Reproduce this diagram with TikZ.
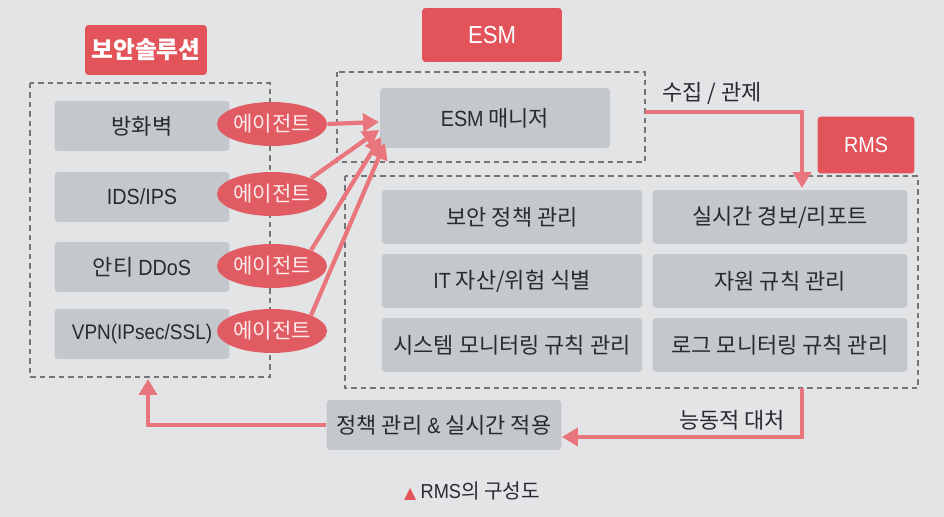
\documentclass[tikz,border=0pt]{standalone}
\usepackage{fontspec}
\setmainfont{Noto Sans CJK KR}
\newfontfamily\symfont{DejaVu Sans}
\newfontfamily\latinfont[FakeStretch=0.9]{Liberation Sans}
\usetikzlibrary{arrows.meta,shapes.geometric}
\definecolor{pagebg}{RGB}{227,228,230}
\definecolor{tagred}{RGB}{226,84,90}
\definecolor{agentred}{RGB}{224,92,98}
\definecolor{arrowred}{RGB}{232,118,124}
\definecolor{boxgray}{RGB}{196,199,204}
\definecolor{dashgray}{RGB}{115,117,121}
\definecolor{textdark}{RGB}{40,42,48}
\begin{document}
\begin{tikzpicture}[x=0.02cm,y=-0.02cm]
	\tikzstyle{tag}=[rectangle,rounded corners=2pt,fill=tagred,text=white,inner sep=0pt,font=\fontsize{13}{15}\selectfont]
	\tikzstyle{g-node}=[rectangle,rounded corners=2pt,fill=boxgray,text=textdark,inner sep=0pt,font=\fontsize{12.5}{15}\selectfont]
	\tikzstyle{a-node}=[ellipse,fill=agentred,text=white!92!red,inner sep=0pt,minimum width=2.2cm,minimum height=0.88cm,font=\fontsize{12}{14}\selectfont]
	\tikzstyle{group}=[draw=dashgray,line width=0.9pt,dash pattern=on 1.1mm off 0.8mm]
	\tikzstyle{flow}=[draw=arrowred,line width=2.4pt,-{Triangle[length=3.2mm,width=3.6mm]}]
	\tikzstyle{annot}=[text=textdark,font=\fontsize{12.5}{15}\selectfont]
	% background and frame
	\fill[pagebg] (0,0) rectangle (944,517);
	\useasboundingbox (0,0) rectangle (944,517);
	% dashed groups
	\draw[group] (30,83) rectangle (270,377);
	\draw[group] (337,72) rectangle (645,162);
	\draw[group] (345,176) rectangle (918,388);
	% titles
	\node[tag,minimum width=2.44cm,minimum height=1.0cm,font=\fontsize{13.5}{15}\selectfont\bfseries] (sec-tag) at (146,50) {보안솔루션};
	\node[tag,minimum width=2.8cm,minimum height=1.08cm,font=\fontsize{14}{16}\latinfont] (esm-tag) at (492,35) {ESM};
	\node[tag,minimum width=1.94cm,minimum height=1.14cm,font=\fontsize{12.5}{15}\latinfont] (rms-tag) at (866,145) {RMS};
	% security solutions
	\node[g-node,minimum width=3.5cm,minimum height=1.0cm] (s1) at (142,126) {방화벽};
	\node[g-node,minimum width=3.5cm,minimum height=1.0cm] (s2) at (142,197) {\latinfont IDS/IPS};
	\node[g-node,minimum width=3.5cm,minimum height=1.0cm] (s3) at (142,267) {안티 {\latinfont DDoS}};
	\node[g-node,minimum width=3.5cm,minimum height=1.0cm,font=\fontsize{12}{14}\latinfont] (s4) at (142,334) {VPN(IPsec/SSL)};
	% agents
	\node[a-node] (a1) at (272,124) {에이전트};
	\node[a-node] (a2) at (272,194) {에이전트};
	\node[a-node] (a3) at (272,266) {에이전트};
	\node[a-node] (a4) at (272,331) {에이전트};
	% esm
	\node[g-node,minimum width=4.6cm,minimum height=1.2cm] (esm) at (495,118) {{\latinfont ESM} 매니저};
	% rms modules
	\node[g-node,minimum width=5.22cm,minimum height=1.08cm] (r1) at (512,217) {보안 정책 관리};
	\node[g-node,minimum width=5.1cm,minimum height=1.08cm] (r2) at (780,217) {실시간 경보/리포트};
	\node[g-node,minimum width=5.22cm,minimum height=1.08cm] (r3) at (512,281) {{\latinfont IT} 자산/위험 식별};
	\node[g-node,minimum width=5.1cm,minimum height=1.08cm] (r4) at (780,281) {자원 규칙 관리};
	\node[g-node,minimum width=5.22cm,minimum height=1.08cm] (r5) at (512,345) {시스템 모니터링 규칙 관리};
	\node[g-node,minimum width=5.1cm,minimum height=1.08cm] (r6) at (780,345) {로그 모니터링 규칙 관리};
	% policy
	\node[g-node,minimum width=4.7cm,minimum height=1.0cm] (pol) at (444,425) {정책 관리 {\latinfont\&} 실시간 적용};
	% labels
	\node[annot] (collect) at (712,93) {수집 / 관제};
	\node[annot] (react) at (732,420) {능동적 대처};
	\node[font=\fontsize{11.5}{14}\selectfont,text=textdark] (caption) at (472,491) {{\symfont\color{tagred}\small▲} {\latinfont RMS}의 구성도};
	% anchor points
	\coordinate (m1) at (379,122);
	\coordinate (m2) at (379,130);
	\coordinate (m3) at (381,137);
	\coordinate (m4) at (385,143);
	\coordinate (esm-out) at (645,112);
	\coordinate (rms-in) at (802,188);
	\coordinate (rms-out) at (802,388);
	\coordinate (sec-in) at (148,379);

	\path[flow] (a1.east) -- (m1);
	\path[flow] (a2.north east) -- (m2);
	\path[flow] (a3.north east) -- (m3);
	\path[flow] (a4.north east) -- (m4);
	\path[flow] (esm-out) -| (rms-in);
	\path[flow] (rms-out) |- ([yshift=-0.24cm]pol.east);
	\path[flow] (pol.west) -| (sec-in);
\end{tikzpicture}
\end{document}
